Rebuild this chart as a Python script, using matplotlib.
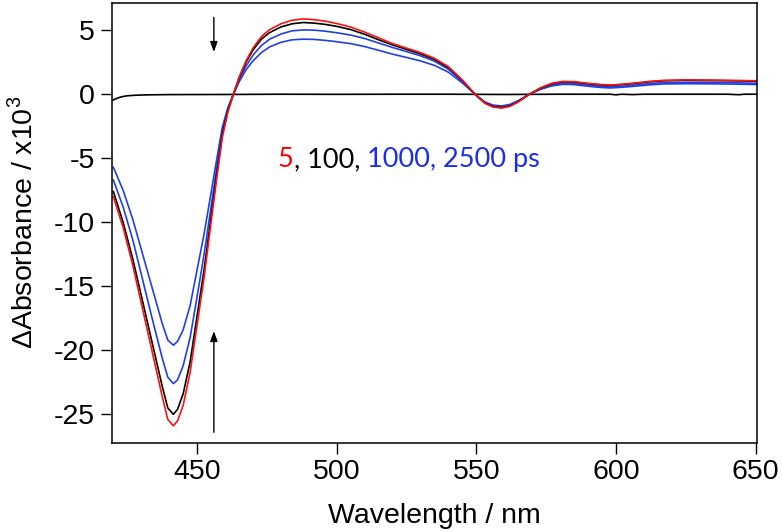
import matplotlib
matplotlib.use("Agg")
import matplotlib.pyplot as plt

plt.rcParams["font.family"] = ["Liberation Sans", "DejaVu Sans"]
plt.rcParams["axes.unicode_minus"] = False
plt.rcParams["mathtext.fontset"] = "custom"
plt.rcParams["mathtext.rm"] = "Liberation Sans"

# wavelength grid (nm) shared by the four transient spectra
wl = [420, 423.5, 427, 430.5, 434, 437.5, 439.5, 441.5, 443, 445, 447.5, 450, 452.5,
      455, 457, 459, 461, 463, 465, 467.5, 470, 473, 476, 480, 484, 488, 492, 496,
      500, 505, 510, 515, 520, 525, 530, 535, 540, 545, 549.5, 553, 556, 559, 562,
      565, 569, 573, 577, 581, 585, 590, 595, 598, 602, 607, 612, 617, 625, 635,
      645, 650.5]

da_5ps = [-8.0, -10.4, -13.4, -16.8, -20.2, -23.6, -25.4, -25.9, -25.5, -24.3, -21.7,
          -18.0, -14.3, -10.0, -6.6, -3.4, -1.4, 0.0, 1.3, 2.6, 3.6, 4.5, 5.05, 5.5,
          5.78, 5.88, 5.82, 5.7, 5.52, 5.25, 4.85, 4.4, 3.95, 3.6, 3.25, 2.8, 2.15,
          1.1, 0.0, -0.7, -1.0, -1.08, -0.95, -0.6, 0.0, 0.5, 0.85, 1.0, 0.98, 0.85,
          0.75, 0.72, 0.78, 0.88, 1.0, 1.08, 1.12, 1.1, 1.07, 1.05]

da_100ps = [-7.6, -10.0, -12.9, -16.2, -19.5, -22.8, -24.5, -25.0, -24.6, -23.4, -20.9,
            -17.3, -13.7, -9.6, -6.3, -3.2, -1.3, 0.0, 1.25, 2.5, 3.45, 4.3, 4.82, 5.25,
            5.5, 5.6, 5.55, 5.45, 5.3, 5.05, 4.68, 4.25, 3.85, 3.5, 3.15, 2.72, 2.08,
            1.07, 0.0, -0.68, -0.97, -1.05, -0.92, -0.58, 0.0, 0.48, 0.82, 0.97, 0.95,
            0.82, 0.72, 0.69, 0.75, 0.85, 0.97, 1.05, 1.09, 1.07, 1.04, 1.02]

da_1000ps = [-6.7, -8.8, -11.4, -14.5, -17.6, -20.6, -22.1, -22.6, -22.3, -21.2, -19.0,
             -15.8, -12.5, -8.8, -5.8, -3.0, -1.2, 0.0, 1.1, 2.2, 3.05, 3.8, 4.3, 4.7,
             4.95, 5.02, 5.0, 4.92, 4.8, 4.62, 4.35, 4.0, 3.65, 3.33, 3.0, 2.58, 1.95,
             1.0, 0.0, -0.65, -0.92, -1.0, -0.88, -0.55, 0.0, 0.42, 0.72, 0.85, 0.83,
             0.7, 0.6, 0.57, 0.62, 0.72, 0.83, 0.9, 0.93, 0.92, 0.88, 0.86]

da_2500ps = [-5.7, -7.5, -9.8, -12.5, -15.2, -17.9, -19.2, -19.6, -19.3, -18.4, -16.5,
             -13.7, -10.9, -7.7, -5.1, -2.6, -1.05, 0.0, 0.95, 1.9, 2.6, 3.25, 3.7, 4.05,
             4.25, 4.3, 4.28, 4.2, 4.1, 3.95, 3.72, 3.43, 3.13, 2.87, 2.6, 2.25, 1.72,
             0.88, 0.0, -0.6, -0.85, -0.92, -0.8, -0.5, 0.0, 0.38, 0.65, 0.77, 0.75,
             0.62, 0.52, 0.49, 0.54, 0.63, 0.73, 0.8, 0.82, 0.81, 0.78, 0.76]

# flat trace before time zero
wl_base = [420, 421.5, 423, 425, 428, 432, 440, 460, 480, 500, 520, 540, 560, 580,
           598, 600, 602, 606, 610, 620, 640, 644, 646, 650.5]
da_base = [-0.45, -0.3, -0.2, -0.12, -0.08, -0.05, -0.03, -0.02, 0.0, -0.01, 0.0, 0.0,
           -0.02, 0.0, 0.0, -0.05, 0.0, -0.03, 0.0, 0.0, 0.0, -0.04, 0.0, 0.0]

legend_parts = ["5", ", 100, ", "1000, 2500 ps"]
legend_colors = ["#ff0000", "#000000", "#1a2ee6"]

red = "#ff1010"
blue = "#2040e0"

fig = plt.figure(figsize=(7.82, 5.32), dpi=100)
ax = fig.add_axes([0.1428, 0.1682, 0.8252, 0.8268])

ax.plot(wl_base, da_base, color="black", lw=1.2)
ax.plot(wl, da_2500ps, color=blue, lw=1.2)
ax.plot(wl, da_1000ps, color=blue, lw=1.2)
ax.plot(wl, da_100ps, color="black", lw=1.2)
ax.plot(wl, da_5ps, color=red, lw=1.2)

ax.set_xlim(419.4, 650.5)
ax.set_ylim(-27.2, 7.15)
ax.set_xticks([450, 500, 550, 600, 650])
ax.set_yticks([5, 0, -5, -10, -15, -20, -25])

for s in ax.spines.values():
    s.set_linewidth(1.1)
ax.tick_params(direction="out", length=8, width=1, labelsize=20.5, pad=4)

ax.set_xlabel("Wavelength / nm", fontsize=20.5, labelpad=13)
ax.set_ylabel(r"ΔAbsorbance / x10$^3$", fontsize=20.5)
ax.yaxis.set_label_coords(-0.114, 0.5)

# arrows showing the decay
arrow = dict(arrowstyle="-|>,head_length=0.6,head_width=0.22", color="black",
             lw=1, shrinkA=0, shrinkB=0, mutation_scale=10)
ax.annotate("", xy=(456, 3.3), xytext=(456, 6.0), arrowprops=arrow)
ax.annotate("", xy=(456, -18.5), xytext=(456, -26.4), arrowprops=arrow)

# coloured time labels written piece by piece
prev = ax.text(478.9, -5.67, legend_parts[0], color=legend_colors[0],
               family=["Lato", "DejaVu Sans"], fontsize=19.5, va="baseline")
for part, c in zip(legend_parts[1:], legend_colors[1:]):
    prev = ax.annotate(part, xy=(1, 0), xycoords=prev, va="bottom", ha="left",
                       color=c, family=["Lato", "DejaVu Sans"], fontsize=19.5)

fig.savefig("out.png", dpi=100)
